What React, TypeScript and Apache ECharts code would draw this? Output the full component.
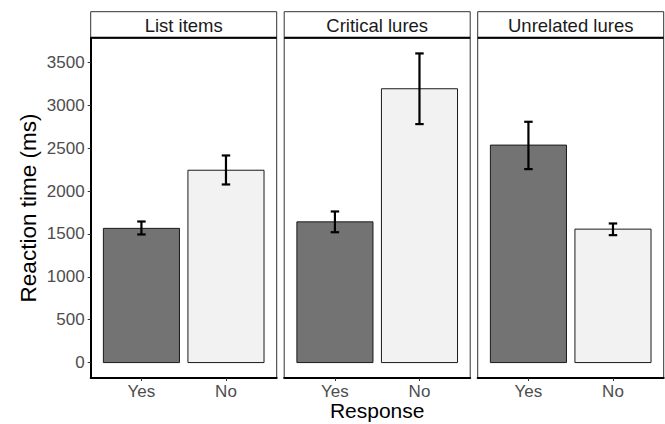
import React, { useEffect, useRef } from "react";
import * as echarts from "echarts";

const panels = ["List items", "Critical lures", "Unrelated lures"];
const responses = ["Yes", "No"];
const meanYes = [1565, 1641, 2536];
const meanNo = [2243, 3193, 1556];
const lowerYes = [1494, 1520, 2256];
const upperYes = [1645, 1762, 2808];
const lowerNo = [2077, 2781, 1486];
const upperNo = [2415, 3605, 1622];
const yTicks = [0, 500, 1000, 1500, 2000, 2500, 3000, 3500];

const FONT = "'Liberation Sans', Arial, sans-serif";
const panelLeft = [90.7, 284.2, 477.7];
const panelWidth = 186;
const panelTop = 38;
const panelHeight = 340;

export default function App() {
  const ref = useRef<HTMLDivElement>(null);
  useEffect(() => {
    if (!ref.current) return;
    const chart = echarts.init(ref.current, null, { renderer: "svg" });
    const grids = panels.map((_, i) => ({
      left: panelLeft[i],
      top: panelTop,
      width: panelWidth,
      height: panelHeight,
      containLabel: false,
      outerBoundsMode: "none",
      show: true,
      borderColor: "#333",
      borderWidth: 1,
      backgroundColor: "#fff",
    }));
    const xAxes = panels.map((_, i) => ({
      type: "value",
      gridIndex: i,
      min: 0.4,
      max: 2.6,
      axisLine: { show: true, onZero: false, lineStyle: { color: "#000", width: 2 } },
      axisTick: { show: true, customValues: [1, 2], length: 3, lineStyle: { color: "#333", width: 1 } },
      axisLabel: {
        customValues: [1, 2],
        formatter: (v: number) => responses[Math.round(v) - 1],
        color: "#4d4d4d",
        fontSize: 17,
        fontFamily: FONT,
        margin: 5,
      },
      splitLine: { show: false },
      name: i === 1 ? "Response" : "",
      nameLocation: "middle",
      nameMoveOverlap: false,
      nameGap: 22,
      nameTextStyle: { fontSize: 21, lineHeight: 21, color: "#000", fontFamily: FONT },
    }));
    const yAxes = panels.map((_, i) => ({
      type: "value",
      gridIndex: i,
      min: -180,
      max: 3785,
      axisLine: { show: i === 0, onZero: false, lineStyle: { color: "#000", width: 2 } },
      axisTick: { show: i === 0, customValues: yTicks, length: 3, lineStyle: { color: "#333", width: 1 } },
      axisLabel: {
        show: i === 0,
        customValues: yTicks,
        formatter: (v: number) => String(v),
        color: "#4d4d4d",
        fontSize: 17,
        fontFamily: FONT,
        margin: 6,
      },
      splitLine: { show: false },
      name: i === 0 ? "Reaction time (ms)" : "",
      nameLocation: "middle",
      nameGap: 51,
      nameTextStyle: { fontSize: 22.5, color: "#000", fontFamily: FONT },
    }));
    const series = panels.map((_, i) => ({
      type: "custom",
      xAxisIndex: i,
      yAxisIndex: i,
      clip: false,
      data: [
        [1, meanYes[i], lowerYes[i], upperYes[i], 0],
        [2, meanNo[i], lowerNo[i], upperNo[i], 1],
      ],
      renderItem: (params: any, api: any) => {
        const x = api.value(0);
        const m = api.value(1);
        const lo = api.value(2);
        const hi = api.value(3);
        const k = api.value(4);
        const a = api.coord([x - 0.45, 0]);
        const b = api.coord([x + 0.45, m]);
        const t = api.coord([x, hi]);
        const bt = api.coord([x, lo]);
        const cl = api.coord([x - 0.05, hi]);
        const cr = api.coord([x + 0.05, hi]);
        const bl = api.coord([x - 0.05, lo]);
        const br = api.coord([x + 0.05, lo]);
        const es = { stroke: "#000", lineWidth: 2.2 };
        return {
          type: "group",
          children: [
            {
              type: "rect",
              shape: { x: a[0], y: b[1], width: b[0] - a[0], height: a[1] - b[1] },
              style: { fill: k ? "#f2f2f2" : "#737373", stroke: "#1a1a1a", lineWidth: 1 },
            },
            { type: "line", shape: { x1: t[0], y1: t[1], x2: bt[0], y2: bt[1] }, style: es },
            { type: "line", shape: { x1: cl[0], y1: cl[1], x2: cr[0], y2: cr[1] }, style: es },
            { type: "line", shape: { x1: bl[0], y1: bl[1], x2: br[0], y2: br[1] }, style: es },
          ],
        };
      },
    }));
    const graphics: any[] = [];
    panels.forEach((p, i) => {
      graphics.push({
        type: "rect",
        shape: { x: panelLeft[i], y: 11.7, width: panelWidth, height: 26 },
        style: { fill: "#fff", stroke: "#333", lineWidth: 1 },
      });
      graphics.push({
        type: "line",
        shape: { x1: panelLeft[i], y1: 37.7, x2: panelLeft[i] + panelWidth, y2: 37.7 },
        style: { stroke: "#000", lineWidth: 2 },
      });
      graphics.push({
        type: "text",
        x: panelLeft[i] + panelWidth / 2,
        y: 25,
        style: {
          text: p,
          fontSize: 18.5,
          fontFamily: FONT,
          fill: "#1a1a1a",
          textAlign: "center",
          textVerticalAlign: "middle",
        },
      });
    });
    chart.setOption({
      animation: false,
      backgroundColor: "#fff",
      grid: grids,
      xAxis: xAxes,
      yAxis: yAxes,
      series,
      graphic: graphics,
    } as any);
    return () => chart.dispose();
  }, []);
  return (
    <div
      ref={ref}
      style={{ position: "fixed", left: 0, top: 0, width: 665, height: 424 }}
    />
  );
}
